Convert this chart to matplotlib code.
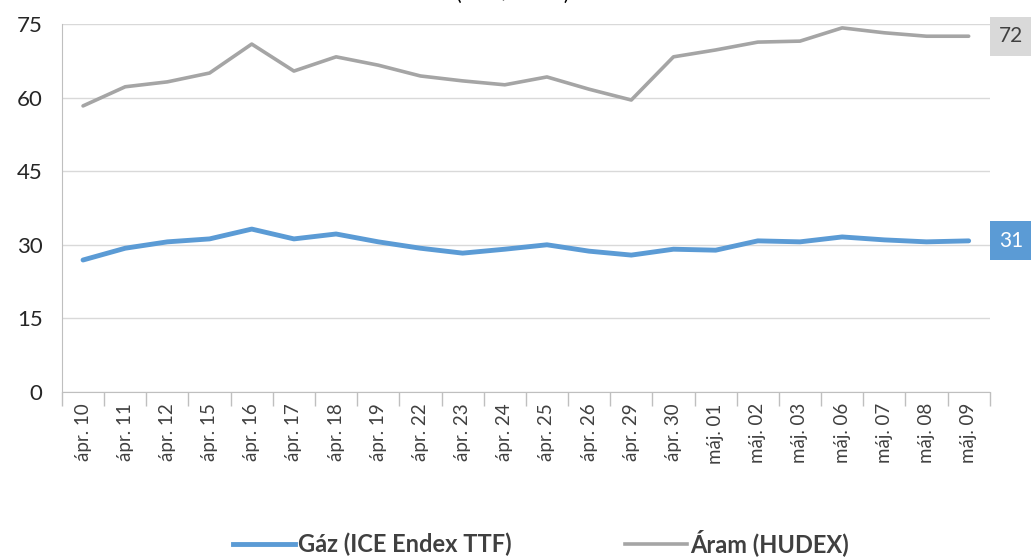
import matplotlib.pyplot as plt
from matplotlib.lines import Line2D

plt.rcParams['font.family'] = ['Lato', 'DejaVu Sans']

dates = ['ápr. 10', 'ápr. 11', 'ápr. 12', 'ápr. 15', 'ápr. 16', 'ápr. 17', 'ápr. 18',
         'ápr. 19', 'ápr. 22', 'ápr. 23', 'ápr. 24', 'ápr. 25', 'ápr. 26', 'ápr. 29',
         'ápr. 30', 'máj. 01', 'máj. 02', 'máj. 03', 'máj. 06', 'máj. 07', 'máj. 08',
         'máj. 09']
gaz = [26.9, 29.3, 30.6, 31.2, 33.2, 31.2, 32.2, 30.6, 29.3, 28.3, 29.1, 30.0,
       28.7, 27.9, 29.1, 28.9, 30.8, 30.6, 31.6, 31.0, 30.6, 30.8]
aram = [58.3, 62.2, 63.2, 65.0, 70.9, 65.4, 68.3, 66.6, 64.4, 63.4, 62.6, 64.2,
        61.7, 59.5, 68.3, 69.7, 71.3, 71.5, 74.2, 73.2, 72.5, 72.5]

blue = '#5B9BD5'
grey = '#A5A5A5'

fig = plt.figure(figsize=(10.31, 5.57), dpi=100)
ax = fig.add_axes([0.0601, 0.2962, 0.8999, 0.6608])

x = list(range(len(dates)))
ax.plot(x, gaz, color=blue, lw=3.5, solid_capstyle='round', zorder=3)
ax.plot(x, aram, color=grey, lw=2.6, solid_capstyle='round', zorder=3)

ax.set_xlim(-0.5, len(dates) - 0.5)
ax.set_ylim(0, 75)
ax.set_yticks([0, 15, 30, 45, 60, 75])
ax.grid(axis='y', color='#D9D9D9', lw=1)
ax.set_axisbelow(True)

ax.set_xticks(x)
ax.set_xticklabels(dates, rotation=90, fontsize=13.5, color='#404040')
ax.set_xticks([i - 0.5 for i in range(len(dates) + 1)], minor=True)
ax.tick_params(axis='x', which='major', length=0, pad=8)
ax.tick_params(axis='x', which='minor', length=10, color='#BFBFBF', width=1)
ax.tick_params(axis='y', length=0, labelsize=16, colors='#262626', pad=14)

for s in ['top', 'right']:
    ax.spines[s].set_visible(False)
for s in ['left', 'bottom']:
    ax.spines[s].set_color('#BFBFBF')

# end-of-line value boxes
ax.annotate(f'{aram[-1]:.0f}', xy=(1.0, aram[-1]), xycoords=('axes fraction', 'data'),
            xytext=(15.5, 0), textcoords='offset points', ha='center', va='center',
            fontsize=15, color='#404040',
            bbox=dict(boxstyle='square,pad=0.45', fc='#D9D9D9', ec='none'))
ax.annotate(f'{gaz[-1]:.0f}', xy=(1.0, gaz[-1]), xycoords=('axes fraction', 'data'),
            xytext=(15.5, 0), textcoords='offset points', ha='center', va='center',
            fontsize=15, color='white',
            bbox=dict(boxstyle='square,pad=0.45', fc=blue, ec='none'))

# title cut off at the top edge
fig.text(0.497, 1.0, '(EUR/MWh)', ha='center', va='baseline', fontsize=15)

handles = [Line2D([], [], color=blue, lw=3.5), Line2D([], [], color=grey, lw=2.6)]
fig.legend(handles, ['Gáz (ICE Endex TTF)', 'Áram (HUDEX)'], loc='center',
           bbox_to_anchor=(0.525, 0.025), ncol=2, frameon=False, handlelength=2.6,
           handletextpad=0.15, columnspacing=4.8,
           prop={'weight': 'bold', 'size': 17})
for t in fig.legends[0].get_texts():
    t.set_color('#404040')

fig.savefig('out.png', dpi=100)
